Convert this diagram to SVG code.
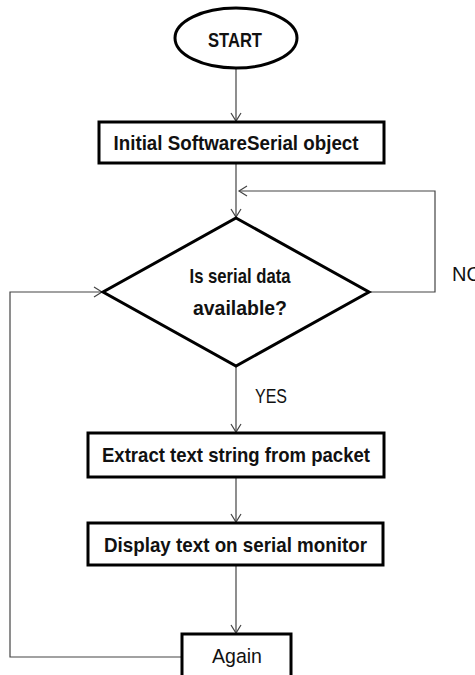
<svg xmlns="http://www.w3.org/2000/svg" width="475" height="675" viewBox="0 0 475 675">
<defs>
<marker id="arr" markerWidth="12" markerHeight="12" refX="10" refY="6" orient="auto" markerUnits="userSpaceOnUse">
<path d="M2,1 L10,6 L2,11" fill="none" stroke="#444" stroke-width="1.2"/>
</marker>
<style>
.node{fill:#fff;stroke:#000;stroke-width:3}
.t{font-family:"Liberation Sans",Arial,sans-serif;font-size:20.5px;font-weight:bold;fill:#111;text-anchor:middle}
.tn{font-family:"Liberation Sans",Arial,sans-serif;font-size:20.5px;fill:#111}
.c{fill:none;stroke:#444;stroke-width:1.2}
</style>
</defs>
<rect width="475" height="675" fill="#fff"/>
<g id="connectors">
<path class="c" d="M236,69 V121" marker-end="url(#arr)"/>
<path class="c" d="M236,164 V217" marker-end="url(#arr)"/>
<path class="c" d="M369,292 H435 V191 H239" marker-end="url(#arr)"/>
<path class="c" d="M236,366 V432" marker-end="url(#arr)"/>
<path class="c" d="M236,478 V522" marker-end="url(#arr)"/>
<path class="c" d="M236,566 V633" marker-end="url(#arr)"/>
<path class="c" d="M182,657 H10 V292 H102" marker-end="url(#arr)"/>
</g>
<g id="start">
<ellipse class="node" cx="236" cy="38" rx="61" ry="30" stroke-width="2.5"/>
<text class="t" x="235" y="47" textLength="54" lengthAdjust="spacingAndGlyphs">START</text>
</g>
<g id="init">
<rect class="node" x="99" y="122" width="285" height="41"/>
<text class="t" x="236" y="150" textLength="245" lengthAdjust="spacingAndGlyphs">Initial SoftwareSerial object</text>
</g>
<g id="decision">
<polygon class="node" points="236,218 369,292 236,366 103,292"/>
<text class="t" x="240" y="283" textLength="101" lengthAdjust="spacingAndGlyphs">Is serial data</text>
<text class="t" x="240" y="315" textLength="94" lengthAdjust="spacingAndGlyphs">available?</text>
</g>
<g id="extract">
<rect class="node" x="88" y="433" width="296" height="44"/>
<text class="t" x="236" y="462" textLength="268" lengthAdjust="spacingAndGlyphs">Extract text string from packet</text>
</g>
<g id="display">
<rect class="node" x="88" y="523" width="295" height="42"/>
<text class="t" x="235.5" y="552" textLength="263" lengthAdjust="spacingAndGlyphs">Display text on serial monitor</text>
</g>
<g id="again">
<rect class="node" x="182" y="634" width="109" height="50"/>
<text class="tn" x="212" y="663" textLength="50" lengthAdjust="spacingAndGlyphs">Again</text>
</g>
<g id="labels">
<text class="tn" x="255" y="403" textLength="32" lengthAdjust="spacingAndGlyphs">YES</text>
<text class="tn" x="452" y="281" textLength="30" lengthAdjust="spacingAndGlyphs">NO</text>
</g>
</svg>
